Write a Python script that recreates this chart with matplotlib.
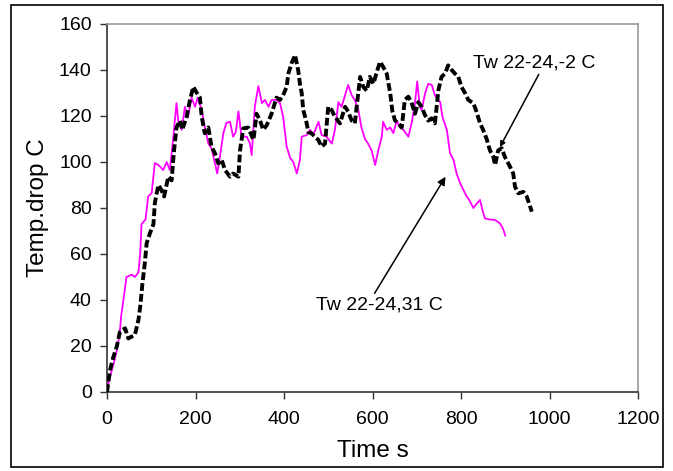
import matplotlib
matplotlib.use("Agg")
import matplotlib.pyplot as plt
from matplotlib.patches import Rectangle

plt.rcParams['font.family'] = ['Liberation Sans', 'DejaVu Sans']

# Series: Tw 22-24,31 C (magenta)
t_31 = [0, 1, 6, 11, 16, 22, 29, 32, 37, 44, 50, 56, 63, 71, 75, 78, 87, 93, 101, 108,
        114, 120, 127, 135, 142, 150, 157, 161, 169, 176, 183, 191, 199, 205, 214, 221,
        229, 236, 244, 249, 255, 263, 270, 278, 285, 291, 297, 304, 316, 323, 327, 334,
        342, 350, 357, 365, 372, 383, 391, 398, 406, 414, 421, 429, 436, 440, 451, 459,
        466, 478, 485, 496, 508, 515, 523, 530, 538, 545, 553, 560, 568, 575, 583, 590,
        598, 606, 613, 621, 624, 632, 640, 647, 655, 662, 670, 681, 689, 696, 701, 707,
        711, 719, 726, 734, 741, 753, 758, 768, 775, 783, 790, 798, 805, 813, 817, 828,
        836, 843, 850, 854, 865, 877, 888, 895, 900]
v_31 = [0, 2, 6, 9.6, 13, 18, 26, 33, 40, 50, 50.5, 51, 50, 52, 60, 73, 75, 85, 86.5, 99.5,
        99, 98, 96.5, 100, 96.5, 111, 125.6, 118, 114, 124, 119.6, 128, 124, 128, 122.6, 115,
        108, 106, 99.5, 95, 102, 112.6, 117, 117.5, 111, 113, 122, 111, 111, 108, 103, 124,
        133, 125.6, 127, 124, 127, 127, 125.6, 119.7, 106.7, 101.7, 100, 95, 101, 111, 111.7, 114,
        111.7, 117.5, 111.7, 111, 108, 114, 126, 124, 129, 133.5, 129, 127, 122.6, 115, 110, 108,
        105, 98.7, 105, 111, 117.5, 114, 115, 112.6, 118, 115, 114, 111, 117.5, 125.6, 135, 124,
        122.6, 130, 134, 133.5, 129, 126, 119.7, 114, 104, 101, 95, 90.8, 88, 85, 84, 80,
        82, 83.5, 78, 75.5, 75, 74.8, 73.3, 71, 68]

# Series: Tw 22-24,-2 C (black dashed)
t_m2 = [0, 1.5, 7, 14, 22, 29, 35, 41, 48, 55, 63, 71, 75, 80, 86, 89.5, 97, 105, 108, 116,
        123, 129, 138.5, 146, 151, 157, 165, 170, 180, 187.5, 195, 203, 210, 214, 221, 229,
        236, 244, 251.5, 259, 266.7, 278, 285, 297, 300.6, 308, 319, 331, 338, 346, 353, 361,
        372, 383, 391, 398, 406, 410, 417, 425, 432, 436, 440, 443.5, 450, 455, 462, 470,
        477.6, 485, 492.7, 500, 507.6, 515, 526.5, 538, 545, 553, 560, 572, 579, 587, 594,
        602, 609.5, 617, 624, 632, 640, 645, 651, 658, 666, 673, 681, 688, 696, 703.5, 711,
        718.6, 726, 733.6, 741, 749, 756, 764, 771, 779, 786, 794, 801, 809, 816.5, 828, 835,
        843, 850, 858, 865.5, 873, 877, 884, 892, 899, 910.7, 918, 922, 929.5, 941, 948.5,
        956, 960]
v_m2 = [0, 2, 9.6, 15, 19.7, 26, 27, 27.7, 23.3, 24, 24.8, 31.3, 37, 47, 57, 64.6, 69, 73, 82, 90,
        87.8, 85, 93.6, 92, 104, 115, 118, 114, 119.7, 127, 132.7, 130, 128, 119.7, 112.5, 115,
        106.7, 103.8, 99.4, 101, 96.5, 93.6, 95, 93.6, 105, 114.6, 115, 109.6, 121, 118, 114, 116,
        121, 128, 127, 129, 132.7, 138.5, 142.9, 146.5, 140, 134, 130, 122.6, 118, 113, 112.5, 111,
        109.6, 106.7, 108, 124, 122.6, 119.7, 116.8, 124, 121.9, 118, 116.8, 137, 132.7, 131, 137,
        134, 139, 143.6, 141.4, 138.5, 130, 121.9, 118, 116.8, 115, 127, 128.4, 126, 121, 126, 124,
        120.4, 118, 119, 116.8, 131.3, 137, 138.5, 142, 140, 138.5, 137, 132.7, 130, 127, 125.5, 121.9,
        116.8, 114, 110, 105, 102.3, 98.7, 105, 106, 102.3, 98, 95, 89.3, 86.4, 87, 85,
        80.6, 78.4]

x_ticks = [0, 200, 400, 600, 800, 1000, 1200]
y_ticks = [0, 20, 40, 60, 80, 100, 120, 140, 160]

fig = plt.figure(figsize=(6.73, 4.71), dpi=100)
ax = fig.add_axes([107/673, 1 - 392/471, (638 - 107)/673, (392 - 24)/471])

ax.plot(t_31, v_31, color='#FF00FF', lw=1.3, zorder=3)
ax.plot(t_m2, v_m2, color='black', lw=2.8, linestyle=(0, (2.0, 0.8)), zorder=4)

ax.set_xlim(0, 1200)
ax.set_ylim(0, 160)
ax.set_xticks(x_ticks)
ax.set_yticks(y_ticks)
ax.tick_params(axis='both', direction='out', length=5, width=1, color='#333333',
               labelsize=14)
ax.tick_params(axis='x', pad=9)
ax.tick_params(axis='y', pad=6)

for s in ['left', 'bottom']:
    ax.spines[s].set_color('#333333')
    ax.spines[s].set_linewidth(1.2)
for s in ['top', 'right']:
    ax.spines[s].set_color('#999999')
    ax.spines[s].set_linewidth(1.2)

ax.set_xlabel('Time s', fontsize=17.5, labelpad=8)
ax.set_ylabel('Temp.drop C', fontsize=17.5, labelpad=7)

ax.annotate('Tw 22-24,-2 C', xy=(888, 106.5), xytext=(827, 143), fontsize=14,
            va='center', ha='left',
            arrowprops=dict(arrowstyle='-|>', color='black', lw=1.1, mutation_scale=8,
                            shrinkA=0, shrinkB=0, relpos=(0.55, 0.0)))
ax.annotate('Tw 22-24,31 C', xy=(765, 93.6), xytext=(472, 38), fontsize=14,
            va='center', ha='left',
            arrowprops=dict(arrowstyle='-|>', color='black', lw=1.1, mutation_scale=12,
                            shrinkA=0, shrinkB=0, relpos=(0.45, 1.0)))

fig.patches.append(Rectangle((11/673, 1 - 467/471), (663 - 11)/673, (467 - 5)/471,
                             transform=fig.transFigure, fill=False, edgecolor='black',
                             lw=1.2, zorder=10))

fig.savefig('out.png', dpi=100)
